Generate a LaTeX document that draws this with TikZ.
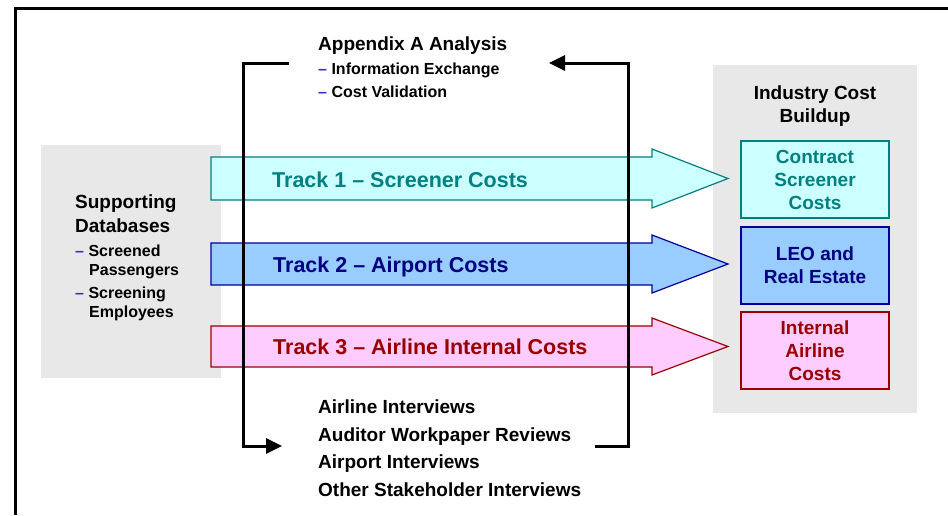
\documentclass[tikz,border=0pt]{standalone}
\usepackage{fontspec}
\setmainfont{Liberation Sans}
\usetikzlibrary{arrows.meta}

\definecolor{panelgray}{HTML}{E8E8E8}
\definecolor{tealline}{HTML}{008080}
\definecolor{tealfill}{HTML}{CCFFFF}
\definecolor{navyline}{HTML}{000099}
\definecolor{navytext}{HTML}{000080}
\definecolor{navyfill}{HTML}{99CCFF}
\definecolor{redline}{HTML}{990000}
\definecolor{redfill}{HTML}{FFCCFF}
\definecolor{dashblue}{HTML}{3333CC}

\newcommand{\bluedash}{{\color{dashblue}–}}

\begin{document}
\begin{tikzpicture}[
    x=1pt,
    y=-1pt,
    panel/.style={
        fill=panelgray,
        inner sep=0,
        anchor=north west
    },
    head/.style={
        inner sep=0,
        anchor=base west,
        font=\fontsize{19}{23}\selectfont\bfseries
    },
    sub/.style={
        head,
        font=\fontsize{16}{19}\selectfont\bfseries
    },
    track/.style={
        head,
        font=\fontsize{21.5}{26}\selectfont\bfseries
    },
    costbox/.style={
        draw,
        line width=1.2pt,
        minimum width=148pt,
        minimum height=77pt,
        align=center,
        font=\fontsize{19}{23}\selectfont\bfseries
    },
    trackarrow/.style={
        draw,
        line width=1.2pt
    },
    loopline/.style={
        line width=3pt,
        -{Triangle[length=16pt,width=15pt]}
    }
]
\useasboundingbox (0,0) rectangle (948,515);

% =====================
% Marco
% =====================
\draw[line width=3pt] (948,8) -- (15,8) -- (15,515);

% =====================
% Paneles grises
% =====================
\node[panel, minimum width=180pt, minimum height=233pt] (dbpanel) at (41,145) {};
\node[panel, minimum width=204pt, minimum height=348pt] (indpanel) at (713,65) {};

% =====================
% Supporting Databases
% =====================
\node[head] (sdb1) at (75,208) {Supporting};
\node[head] (sdb2) at (75,232) {Databases};
\node[sub]  (scr1) at (75,256) {\bluedash{} Screened};
\node[sub]  (scr2) at (89,275) {Passengers};
\node[sub]  (emp1) at (75,298) {\bluedash{} Screening};
\node[sub]  (emp2) at (89,317) {Employees};

% =====================
% Flechas de tracks
% =====================
\draw[trackarrow, draw=tealline, fill=tealfill]
    (211,157) -- (652,157) -- (652,149) -- (728,178.5) -- (652,208) -- (652,200) -- (211,200) -- cycle;
\draw[trackarrow, draw=navyline, fill=navyfill]
    (211,243) -- (652,243) -- (652,235) -- (728,264) -- (652,293) -- (652,285) -- (211,285) -- cycle;
\draw[trackarrow, draw=redline, fill=redfill]
    (211,326) -- (652,326) -- (652,318) -- (728,346.5) -- (652,375) -- (652,367) -- (211,367) -- cycle;

\node[track, text=tealline] (trk1) at (272,187) {Track 1 – Screener Costs};
\node[track, text=navytext] (trk2) at (273,272) {Track 2 – Airport Costs};
\node[track, text=redline]  (trk3) at (273,354) {Track 3 – Airline Internal Costs};

% =====================
% Industry Cost Buildup
% =====================
\node[head, anchor=base] (ind1) at (815,99) {Industry Cost};
\node[head, anchor=base] (ind2) at (815,122) {Buildup};

\node[costbox, draw=tealline, fill=tealfill, text=tealline] (csc) at (815,179.5) {Contract\\Screener\\Costs};
\node[costbox, draw=navyline, fill=navyfill, text=navytext] (leo) at (815,265.5) {LEO and\\Real Estate};
\node[costbox, draw=redline, fill=redfill, text=redline]    (iac) at (815,350.5) {Internal\\Airline\\Costs};

% =====================
% Appendix A
% =====================
\node[head] (appx) at (318,50) {Appendix A Analysis};
\node[sub]  (info) at (318,74) {\bluedash{} Information Exchange};
\node[sub]  (cval) at (318,97) {\bluedash{} Cost Validation};

% =====================
% Entrevistas
% =====================
\node[head] (iv1) at (318,413) {Airline Interviews};
\node[head] (iv2) at (318,441) {Auditor Workpaper Reviews};
\node[head] (iv3) at (318,468) {Airport Interviews};
\node[head] (iv4) at (318,496) {Other Stakeholder Interviews};

% =====================
% Ciclo
% =====================
\coordinate (ltop) at (289,63);
\coordinate (lbot) at (282,446);
\coordinate (rbot) at (595,446);
\coordinate (rtop) at (549,63);

\draw[loopline] (ltop) -- (243,63) |- (lbot);
\draw[loopline] (rbot) -- (628,446) |- (rtop);

\end{tikzpicture}
\end{document}
